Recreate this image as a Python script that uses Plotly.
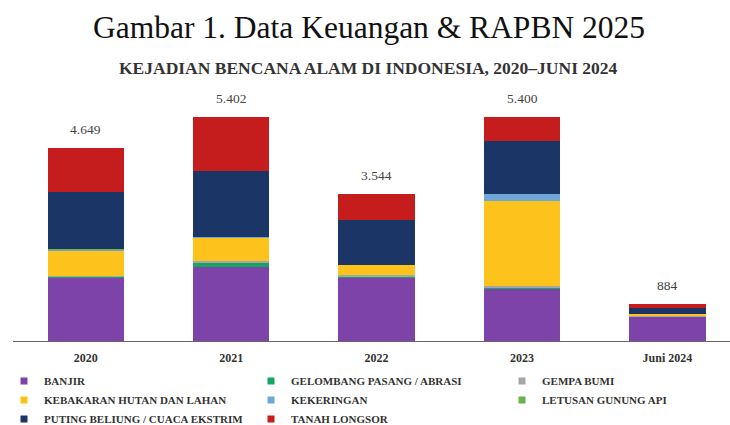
import plotly.graph_objects as go

years = ["2020", "2021", "2022", "2023", "Juni 2024"]
totals = [4649, 5402, 3544, 5400, 884]
total_labels = ["4.649", "5.402", "3.544", "5.400", "884"]

banjir = [1518, 1794, 1531, 1255, 581]
gelombang = [36, 91, 26, 33, 5]
gempa = [16, 32, 28, 31, 6]
kebakaran = [600, 579, 252, 2051, 62]
kekeringan = [29, 15, 4, 174, 0]
letusan = [7, 1, 1, 4, 2]
puting = [1385, 1577, 1068, 1261, 148]
longsor = [1058, 1313, 634, 591, 80]

# (name, values, colour, legend column)
series = [
    ("BANJIR", banjir, "#7E43A8", "legend"),
    ("GELOMBANG PASANG / ABRASI", gelombang, "#16A463", "legend2"),
    ("GEMPA BUMI", gempa, "#A6A6A6", "legend3"),
    ("KEBAKARAN HUTAN DAN LAHAN", kebakaran, "#FDC21C", "legend"),
    ("KEKERINGAN", kekeringan, "#6FA8D8", "legend2"),
    ("LETUSAN GUNUNG API", letusan, "#6DB14A", "legend3"),
    ("PUTING BELIUNG / CUACA EKSTRIM", puting, "#1C3567", "legend"),
    ("TANAH LONGSOR", longsor, "#C51D1D", "legend2"),
]

serif = "Liberation Serif, Times New Roman, serif"

fig = go.Figure()
for name, vals, col, lg in series:
    fig.add_trace(go.Bar(
        x=years, y=vals, name=name, showlegend=False,
        marker=dict(color=col, line=dict(width=0)),
        width=0.525,
    ))
# legend entries with small square swatches
for name, vals, col, lg in series:
    fig.add_trace(go.Scatter(
        x=[None], y=[None], name=name, mode="markers",
        marker=dict(symbol="square", size=7, color=col),
        showlegend=True, hoverinfo="skip", legend=lg,
    ))

for i, (t, lab) in enumerate(zip(totals, total_labels)):
    fig.add_annotation(x=i, y=t, text=lab, showarrow=False,
                       yanchor="bottom", yshift=9,
                       font=dict(family=serif, size=13.5, color="#444444"))

fig.add_annotation(x=0.497, xref="paper", y=1.261, yref="paper", yanchor="middle",
                   text="Gambar 1. Data Keuangan &amp; RAPBN 2025", showarrow=False,
                   font=dict(family=serif, size=31.5, color="#111111"))
fig.add_annotation(x=0.496, xref="paper", y=1.096, yref="paper", yanchor="middle",
                   text="<b>KEJADIAN BENCANA ALAM DI INDONESIA, 2020–JUNI 2024</b>",
                   showarrow=False,
                   font=dict(family=serif, size=17.5, color="#333333"))

leg_common = dict(orientation="v", xanchor="left", y=-0.102, yanchor="top",
                  traceorder="normal", itemsizing="trace", tracegroupgap=0,
                  bgcolor="rgba(0,0,0,0)",
                  font=dict(family=serif, size=11, color="#333333", weight="bold"))

fig.update_layout(
    width=730, height=425,
    barmode="stack",
    paper_bgcolor="white", plot_bgcolor="white",
    margin=dict(l=13, r=0, t=92, b=84, autoexpand=False),
    xaxis=dict(range=[-0.5, 4.43], showline=True, linecolor="#666666", linewidth=1,
               ticks="", showgrid=False, fixedrange=True, ticklabelstandoff=6,
               tickfont=dict(family=serif, size=12, color="#333333", weight="bold")),
    yaxis=dict(range=[0, 6000], visible=False, showgrid=False, fixedrange=True),
    legend=dict(x=(4 - 13) / 717, **leg_common),
    legend2=dict(x=(251 - 13) / 717, **leg_common),
    legend3=dict(x=(502 - 13) / 717, **leg_common),
    showlegend=True,
)

fig.write_html("out.html",
               config={"displayModeBar": False},
               post_script="document.body.style.margin='0';document.body.style.padding='0';"
                           "document.body.style.overflow='hidden';")
